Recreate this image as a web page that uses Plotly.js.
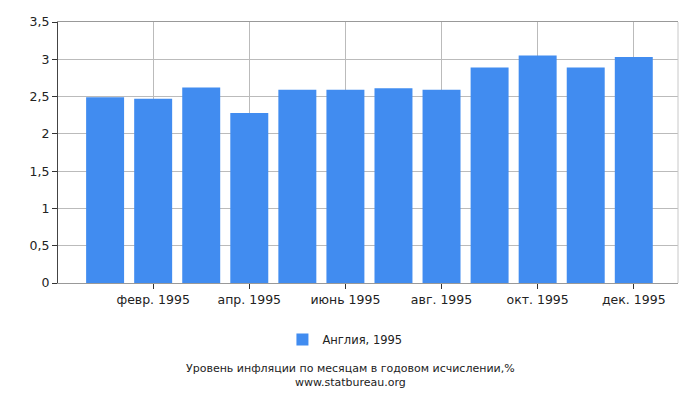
<!DOCTYPE html>
<html>
<head>
<meta charset="utf-8">
<script src="https://cdn.plot.ly/plotly-3.0.1.min.js"></script>
<style>
  html, body { margin: 0; padding: 0; background: #fff; }
  #chart { width: 700px; height: 400px; }
</style>
</head>
<body>
<div id="chart"></div>
<script>
// monthly inflation, England 1995 (year-on-year, %)
const months = ['янв. 1995', 'февр. 1995', 'март 1995', 'апр. 1995', 'май 1995', 'июнь 1995',
                'июль 1995', 'авг. 1995', 'сент. 1995', 'окт. 1995', 'нояб. 1995', 'дек. 1995'];
const inflation = [2.49, 2.47, 2.62, 2.28, 2.59, 2.59, 2.61, 2.59, 2.89, 3.05, 2.89, 3.03];
const labelIdx = [1, 3, 5, 7, 9, 11];
const seriesName = 'Англия, 1995';
const chartTitle = 'Уровень инфляции по месяцам в годовом исчислении,%';
const source = 'www.statbureau.org';

const xs = months.map((m, i) => i);

Plotly.newPlot('chart', [{
    x: xs,
    y: inflation,
    type: 'bar',
    name: seriesName,
    text: months,
    hoverinfo: 'text+y',
    textposition: 'none',
    marker: { color: '#418cf0' },
    showlegend: true
}], {
    width: 700,
    height: 400,
    margin: { l: 57.5, r: 22, t: 22, b: 116.5 },
    paper_bgcolor: '#fff',
    plot_bgcolor: '#fff',
    separators: ', ',
    bargap: 0.21,
    font: { family: 'DejaVu Sans, Verdana, sans-serif', size: 12.5, color: '#222' },
    xaxis: {
        range: [-0.98, 11.92],
        tickvals: labelIdx,
        ticktext: labelIdx.map(i => months[i]),
        showgrid: true,
        gridcolor: '#bbbbbb',
        zeroline: false,
        showline: true,
        linecolor: '#999',
        mirror: true,
        ticks: 'outside',
        ticklen: 5,
        tickcolor: '#333',
        fixedrange: true
    },
    yaxis: {
        range: [0, 3.5],
        dtick: 0.5,
        showgrid: true,
        gridcolor: '#bbbbbb',
        zeroline: false,
        showline: true,
        linecolor: '#444',
        ticks: 'outside',
        ticklen: 5,
        tickcolor: '#333',
        fixedrange: true
    },
    shapes: [{
        type: 'line', xref: 'paper', yref: 'paper',
        x0: 1, x1: 1, y0: 0, y1: 1,
        line: { color: '#c8c8c8', width: 1 }
    }],
    legend: {
        orientation: 'h',
        x: 0.362, xanchor: 'left',
        y: -0.216, yanchor: 'middle',
        font: { size: 11.5 }
    },
    annotations: [
        { text: chartTitle, xref: 'paper', yref: 'paper', x: 0.471, y: -0.327,
          xanchor: 'center', yanchor: 'middle', showarrow: false, font: { size: 11 } },
        { text: source, xref: 'paper', yref: 'paper', x: 0.471, y: -0.382,
          xanchor: 'center', yanchor: 'middle', showarrow: false, font: { size: 11 } }
    ]
}, { displayModeBar: false, staticPlot: true });
</script>
</body>
</html>
